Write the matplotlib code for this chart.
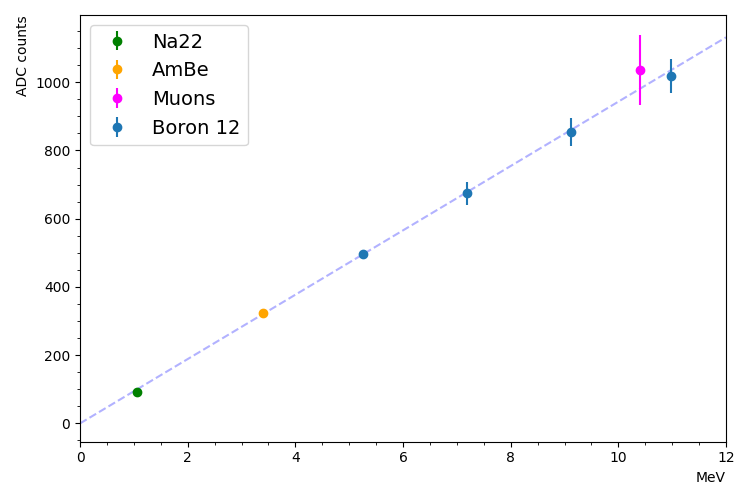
import matplotlib
matplotlib.use("Agg")
import matplotlib.pyplot as plt
import numpy as np

# calibration points (MeV, ADC counts, error)
na22_e, na22_adc, na22_err = [1.06], [91], [4]
ambe_e, ambe_adc, ambe_err = [3.40], [323], [5]
muon_e, muon_adc, muon_err = [10.40], [1035], [103]
b12_e = [5.26, 7.19, 9.12, 10.98]
b12_adc = [497, 675, 855, 1017]
b12_err = [6, 34, 41, 50]

fit_slope, fit_offset = 94.3, 0.0
fit_x = [0, 12]

fig = plt.figure(figsize=(7.5, 5), dpi=100)
ax = fig.add_axes([0.1067, 0.117, 0.8613, 0.853])

fx = np.array(fit_x, dtype=float)
ax.plot(fx, fit_slope * fx + fit_offset, "--", color="blue", alpha=0.3)

ax.errorbar(na22_e, na22_adc, yerr=na22_err, fmt="o", color="green", label="Na22")
ax.errorbar(ambe_e, ambe_adc, yerr=ambe_err, fmt="o", color="orange", label="AmBe")
ax.errorbar(muon_e, muon_adc, yerr=muon_err, fmt="o", color="magenta", label="Muons")
ax.errorbar(b12_e, b12_adc, yerr=b12_err, fmt="o", color="C0", label="Boron 12")

ax.set_xlim(0, 12)
ax.set_ylim(-53, 1197)
ax.minorticks_on()
ax.set_xlabel("MeV", loc="right")
ax.set_ylabel("ADC counts", loc="top")
ax.legend(loc="upper left", fontsize=14)

fig.savefig("out.png")
